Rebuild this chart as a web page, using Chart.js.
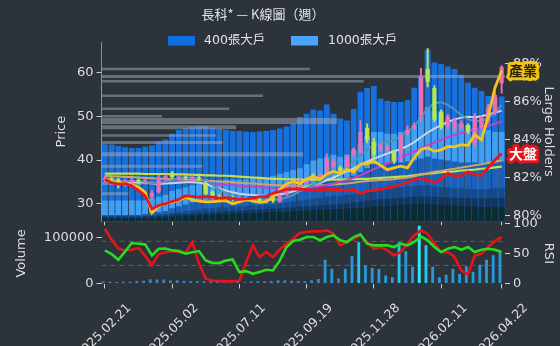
<!DOCTYPE html>
<html>
<head>
<meta charset="utf-8">
<title>長科* K線圖</title>
<script src="https://cdn.jsdelivr.net/npm/chart.js@4/dist/chart.umd.min.js"></script>
<style>
  html, body { margin: 0; padding: 0; background: #2d333b; }
  #wrap { position: relative; width: 560px; height: 346px; overflow: hidden; background: #2d333b; }
  #mainChart { position: absolute; left: 0; top: 0; }
  #subChart { position: absolute; left: 0; top: 208px; }
</style>
</head>
<body>
<div id="wrap">
  <canvas id="mainChart" width="560" height="232" style="width:560px;height:232px"></canvas>
  <canvas id="subChart" width="560" height="138" style="width:560px;height:138px"></canvas>
</div>
<script>
// ---- data ----
var titleText = '長科* — K線圖（週）';
var tickIdx = [0, 10, 20, 30, 40, 50, 59];
var tickLabels = ['2025.02.21', '2025.05.02', '2025.07.11', '2025.09.19', '2025.11.28', '2026.02.11', '2026.04.22'];
var priceTicks = [30, 40, 50, 60];
var holderTicks = [80, 82, 84, 86, 88];
var volTicks = [0, 100000];
var rsiTicks = [0, 50, 100];
var rsiLevels = [30, 70];

var opens = [35.5, 35.9, 35.6, 34.3, 35.1, 35.4, 35.0, 31.5, 32.6, 35.6,
  37.1, 35.7, 36.1, 35.6, 36.0, 34.8, 32.8, 31.8, 31.3, 31.5,
  31.0, 31.1, 30.8, 31.0, 30.6, 31.4, 30.5, 32.0, 33.6, 34.3,
  35.0, 36.6, 36.1, 37.4, 38.5, 38.3, 38.3, 41.2, 42.0, 47.4,
  44.2, 42.3, 42.2, 41.9, 41.7, 46.2, 47.4, 50.0, 60.8, 56.5,
  51.1, 47.7, 46.9, 47.5, 48.0, 44.0, 47.4, 48.8, 50.8, 57.5];
var closes = [35.9, 35.6, 34.2, 35.1, 35.4, 35.0, 35.3, 32.5, 35.8, 36.3,
  36.1, 36.2, 35.8, 36.1, 35.7, 32.3, 31.5, 31.2, 31.6, 31.0,
  31.2, 30.8, 31.1, 30.6, 30.9, 30.6, 31.8, 33.6, 34.3, 35.0,
  35.7, 36.1, 36.6, 40.1, 39.8, 37.4, 40.7, 42.5, 46.4, 44.6,
  41.2, 43.5, 43.0, 39.7, 45.8, 46.9, 48.0, 59.1, 57.9, 49.2,
  47.4, 50.0, 49.2, 48.5, 46.4, 49.6, 49.6, 52.0, 54.9, 61.3];
var highs = [36.3, 36.0, 35.8, 35.5, 35.8, 35.7, 35.6, 33.0, 36.5, 36.6,
  37.4, 36.6, 36.4, 36.5, 36.3, 35.1, 33.0, 32.1, 31.9, 31.8,
  31.5, 31.4, 31.4, 31.3, 31.2, 31.6, 32.0, 34.0, 34.6, 35.5,
  36.0, 36.9, 37.0, 41.4, 40.2, 38.6, 41.1, 42.8, 49.0, 48.3,
  45.0, 43.9, 43.5, 42.3, 46.0, 47.8, 48.5, 61.0, 65.5, 57.0,
  51.5, 50.4, 49.6, 49.0, 48.3, 50.6, 50.0, 52.8, 55.6, 61.6];
var lows = [35.0, 35.2, 33.6, 34.0, 34.8, 34.6, 34.5, 30.9, 32.4, 35.3,
  35.8, 35.4, 35.5, 35.3, 35.4, 32.0, 31.2, 30.9, 30.9, 30.6,
  30.6, 30.5, 30.5, 30.3, 30.2, 30.3, 30.3, 31.8, 33.2, 33.9,
  34.7, 35.8, 35.8, 36.8, 38.2, 37.0, 38.0, 40.8, 41.7, 43.9,
  40.5, 41.9, 41.8, 39.2, 39.6, 45.7, 47.0, 48.8, 56.7, 48.8,
  47.0, 47.3, 46.5, 47.0, 46.0, 43.1, 47.0, 48.4, 50.3, 55.3];

// relative strength lines (industry / market), on the price scale
var industry = [35.7, 35.0, 34.8, 34.6, 34.3, 33.8, 32.6, 27.9, 29.4, 30.1,
  30.3, 30.8, 31.5, 30.9, 30.6, 30.4, 30.5, 30.6, 30.7, 30.0,
  30.4, 31.0, 30.6, 30.3, 30.5, 31.5, 33.2, 34.5, 35.1, 34.6,
  35.6, 36.3, 35.6, 36.8, 37.4, 36.9, 37.8, 37.3, 39.0, 39.2,
  39.7, 38.8, 37.8, 38.2, 38.6, 38.2, 40.5, 42.4, 42.8, 42.0,
  42.3, 43.1, 43.0, 43.5, 43.3, 45.8, 44.6, 50.0, 56.5, 60.4];
var market = [35.6, 34.8, 34.5, 34.6, 34.1, 33.0, 31.8, 28.8, 29.6, 30.0,
  30.5, 31.0, 31.8, 31.7, 31.5, 31.6, 31.5, 31.3, 31.4, 31.2,
  31.0, 31.1, 31.3, 31.6, 31.7, 32.4, 32.8, 33.3, 33.4, 33.3,
  33.3, 33.1, 33.2, 33.3, 33.3, 33.2, 33.0, 33.3, 32.3, 32.9,
  33.1, 33.3, 33.6, 33.9, 34.4, 34.9, 35.5, 35.8, 35.4, 34.8,
  35.6, 37.0, 36.3, 36.4, 37.3, 36.6, 36.5, 38.3, 40.0, 41.5];

// moving averages
var maLong = [36.9, 36.9, 36.9, 36.9, 36.9, 36.9, 36.8, 36.8, 36.8, 36.8,
  36.7, 36.7, 36.7, 36.6, 36.6, 36.5, 36.5, 36.4, 36.4, 36.3,
  36.2, 36.1, 36.0, 35.9, 35.8, 35.7, 35.7, 35.6, 35.6, 35.5,
  35.5, 35.5, 35.5, 35.5, 35.5, 35.5, 35.6, 35.6, 35.7, 35.7,
  35.8, 35.9, 36.0, 36.1, 36.2, 36.3, 36.5, 36.7, 36.9, 37.0,
  37.2, 37.3, 37.4, 37.6, 37.7, 37.8, 38.0, 38.1, 38.3, 38.5];
var maHalf = [36.4, 36.3, 36.2, 36.1, 36.1, 36.0, 35.9, 35.8, 35.7, 35.7,
  35.6, 35.6, 35.5, 35.5, 35.4, 35.3, 35.2, 35.1, 35.0, 34.9,
  34.8, 34.7, 34.6, 34.5, 34.4, 34.3, 34.2, 34.2, 34.1, 34.1,
  34.1, 34.2, 34.2, 34.3, 34.4, 34.5, 34.6, 34.8, 35.0, 35.2,
  35.3, 35.4, 35.5, 35.6, 35.8, 36.0, 36.3, 36.6, 36.9, 37.3,
  37.5, 37.8, 38.0, 38.3, 38.5, 38.8, 39.0, 39.3, 39.6, 39.9];
var maQuarter = [35.4, 35.3, 35.2, 35.2, 35.1, 35.0, 35.0, 34.9, 34.9, 34.9,
  35.0, 35.0, 35.0, 35.0, 34.9, 34.8, 34.6, 34.5, 34.3, 34.2,
  34.1, 34.0, 33.9, 33.8, 33.7, 33.6, 33.5, 33.5, 33.4, 33.4,
  33.6, 33.8, 34.0, 34.3, 34.6, 35.0, 35.4, 35.9, 36.5, 37.2,
  37.9, 38.5, 39.2, 39.9, 40.6, 41.3, 42.0, 42.7, 43.4, 44.0,
  44.6, 45.2, 45.7, 46.2, 46.6, 47.0, 47.4, 47.8, 48.3, 48.8];
var maTen = [35.6, 35.4, 35.2, 35.0, 34.9, 34.9, 34.8, 34.6, 34.5, 34.6,
  34.7, 34.8, 34.9, 34.9, 34.8, 34.5, 34.0, 33.5, 33.0, 32.6,
  32.3, 32.1, 32.0, 31.9, 31.8, 31.9, 32.1, 32.4, 32.8, 33.3,
  33.8, 34.3, 34.8, 35.4, 36.0, 36.7, 37.4, 38.1, 38.9, 39.6,
  40.3, 40.9, 41.5, 42.0, 42.5, 43.2, 44.1, 45.2, 46.3, 47.2,
  48.0, 48.7, 49.3, 49.7, 49.9, 49.8, 50.0, 50.4, 50.8, 51.3];
var maFive = [35.8, 35.7, 35.3, 35.1, 35.2, 35.2, 35.0, 34.6, 34.8, 35.0,
  35.3, 35.9, 36.1, 36.0, 35.9, 35.2, 34.3, 33.3, 32.5, 31.7,
  31.3, 31.2, 31.1, 31.0, 30.9, 30.9, 31.0, 31.4, 32.0, 32.8,
  33.6, 34.3, 35.0, 36.0, 36.9, 37.6, 38.5, 39.5, 41.0, 42.5,
  43.3, 43.9, 44.2, 44.5, 45.5, 46.6, 47.6, 49.8, 51.8, 53.0,
  53.2, 52.6, 51.5, 50.3, 49.3, 48.9, 49.0, 49.5, 50.8, 52.6];

// large holder ratio (%) by tier
var holder400 = [83.75, 83.74, 83.66, 83.60, 83.55, 83.55, 83.63, 83.70, 83.89, 84.00,
  84.30, 84.50, 84.58, 84.66, 84.70, 84.70, 84.63, 84.55, 84.50, 84.45,
  84.45, 84.42, 84.40, 84.42, 84.45, 84.50, 84.58, 84.68, 84.84, 85.18,
  85.35, 85.56, 85.52, 85.83, 85.35, 85.10, 85.00, 85.60, 86.50, 86.70,
  86.80, 86.14, 86.02, 85.97, 85.97, 86.07, 86.71, 87.31, 88.69, 88.04,
  87.96, 87.83, 87.69, 87.40, 86.97, 86.71, 86.54, 86.28, 86.19, 86.25];
var holder1000 = [80.80, 80.80, 80.80, 80.80, 80.80, 80.80, 80.80, 80.90, 81.00, 81.10,
  81.30, 81.40, 81.50, 81.60, 81.65, 81.70, 81.80, 81.85, 81.90, 81.90,
  81.90, 81.90, 82.00, 82.00, 82.00, 82.10, 82.20, 82.30, 82.40, 82.50,
  82.70, 82.90, 83.00, 83.10, 83.20, 83.10, 83.20, 83.40, 83.80, 84.20,
  84.40, 84.40, 84.30, 84.30, 84.40, 84.50, 84.75, 85.20, 85.70, 85.50,
  85.40, 85.00, 84.90, 84.80, 84.70, 84.60, 84.50, 84.50, 84.40, 84.40];
var holderMid = [80.05, 80.05, 80.05, 80.05, 80.05, 80.05, 80.10, 80.15, 80.20, 80.25,
  80.40, 80.50, 80.60, 80.70, 80.75, 80.80, 80.85, 80.90, 80.90, 80.95,
  81.00, 81.00, 81.05, 81.05, 81.10, 81.10, 81.15, 81.20, 81.30, 81.40,
  81.50, 81.60, 81.70, 81.80, 81.90, 81.90, 82.00, 82.10, 82.30, 82.50,
  82.70, 82.75, 82.75, 82.80, 82.80, 82.85, 82.90, 83.00, 83.10, 83.00,
  82.95, 82.90, 82.85, 82.80, 82.80, 82.80, 82.75, 82.75, 82.80, 82.85];
var holderLow = [80.00, 80.00, 80.00, 80.00, 80.00, 80.00, 80.02, 80.05, 80.08, 80.10,
  80.15, 80.20, 80.25, 80.30, 80.35, 80.40, 80.40, 80.45, 80.45, 80.50,
  80.50, 80.50, 80.55, 80.55, 80.60, 80.60, 80.65, 80.70, 80.75, 80.80,
  80.85, 80.90, 80.95, 81.00, 81.05, 81.05, 81.10, 81.15, 81.25, 81.35,
  81.40, 81.45, 81.45, 81.50, 81.50, 81.55, 81.55, 81.60, 81.60, 81.55,
  81.50, 81.50, 81.45, 81.45, 81.40, 81.40, 81.40, 81.40, 81.45, 81.45];
var holderNavy = [79.95, 79.95, 79.95, 79.95, 79.95, 79.95, 79.97, 79.98, 80.00, 80.02,
  80.05, 80.08, 80.10, 80.12, 80.15, 80.18, 80.20, 80.22, 80.24, 80.26,
  80.28, 80.30, 80.32, 80.34, 80.36, 80.38, 80.40, 80.42, 80.45, 80.48,
  80.50, 80.52, 80.55, 80.58, 80.60, 80.62, 80.65, 80.70, 80.75, 80.80,
  80.85, 80.88, 80.90, 80.92, 80.95, 80.98, 81.00, 81.02, 81.02, 81.00,
  80.98, 80.96, 80.95, 80.94, 80.93, 80.92, 80.92, 80.92, 80.93, 80.95];
var holderBase = [79.88, 79.88, 79.88, 79.88, 79.88, 79.88, 79.90, 79.90, 79.92, 79.94,
  79.96, 79.98, 80.00, 80.02, 80.04, 80.06, 80.08, 80.10, 80.10, 80.12,
  80.12, 80.14, 80.14, 80.16, 80.18, 80.20, 80.20, 80.22, 80.24, 80.26,
  80.28, 80.30, 80.32, 80.34, 80.35, 80.36, 80.38, 80.40, 80.42, 80.45,
  80.48, 80.50, 80.52, 80.55, 80.58, 80.60, 80.62, 80.62, 80.62, 80.60,
  80.58, 80.56, 80.54, 80.52, 80.50, 80.48, 80.47, 80.46, 80.45, 80.45];

// volume-by-price profile: price level and length in weeks
var profPrice = [60.8, 59.1, 58.0, 54.7, 51.7, 50.0, 48.9, 47.5, 45.6, 44.0, 41.3, 38.6, 34.6, 32.3];
var profLen = [31, 60, 39, 24, 19, 9, 35, 20, 17, 18, 30, 15, 6, 4];

var volume = [4300, 3800, 3500, 3800, 4000, 5500, 6000, 9500, 9000, 8800,
  6500, 7000, 5500, 5000, 4800, 5200, 5000, 4500, 3000, 2500,
  3500, 3000, 4500, 5000, 5200, 5500, 7000, 7200, 6000, 5000,
  5000, 7000, 10000, 52000, 32600, 11000, 32600, 60000, 90500, 39800,
  34000, 32000, 17400, 13700, 90500, 71000, 37000, 126700, 83900, 37000,
  13700, 19500, 32600, 21000, 38000, 26000, 41000, 52000, 62000, 70000];
var rsiFast = [90.5, 73, 58, 55, 56, 59, 46, 30, 49, 52,
  53.9, 52, 51, 69, 33, 8, 5, 3.9, 3.9, 3.5,
  5, 35, 63, 43.9, 52.2, 43.9, 56.1, 66.1, 74.4, 83.9,
  85.6, 87, 86.5, 88.3, 82.8, 63.3, 68.9, 74.4, 80, 68.9,
  57.8, 60.6, 55, 46.7, 52.2, 66, 80, 88.3, 82.8, 66,
  52.2, 52.2, 43.9, 21.7, 14.4, 46.7, 49.4, 60.6, 70.6, 77.2];
var rsiSlow = [55, 49, 39.4, 53, 67.2, 66, 65, 46.7, 57.8, 58,
  55, 54, 49.4, 52, 53.9, 38.3, 34, 33.9, 38, 40,
  18.9, 20.6, 16.1, 19, 22.8, 21.7, 38, 60, 70.6, 72.8,
  77.2, 77.2, 71.7, 77.2, 80, 71.7, 68.9, 77.2, 81.7, 66.1,
  63.3, 63.3, 63.3, 60.6, 66.1, 63.3, 68.9, 78.3, 71.7, 60.6,
  52.2, 57.8, 60.6, 56.1, 60.6, 52.2, 56.1, 57.8, 56.1, 52.2];

// ---- style ----
var txt = '#dedede';
var tickMark = '#cfcfcf';
var profWidth = [2.5, 3, 2.5, 2.5, 2.5, 2.5, 6, 4, 2.5, 3, 4, 3, 3, 3];

Chart.defaults.font.family = '"DejaVu Sans", "Noto Sans CJK TC", sans-serif';
Chart.defaults.font.size = 13;
Chart.defaults.color = txt;

var N = closes.length;
var weeks = [];
for (var i = 0; i < N; i++) weeks.push(String(i));

function keepTicks(s) {
  s.ticks = s.ticks.filter(function (t) { return tickIdx.indexOf(t.value) !== -1; });
}
function fixedTicks(list) {
  return function (s) { s.ticks = list.map(function (v) { return {value: v}; }); };
}
function candleColor(c) {
  var k = c.dataIndex;
  return closes[k] >= opens[k] ? '#ea6fb5' : '#b4e84e';
}
function volColor(c) {
  var v = volume[c.dataIndex];
  if (v > 110000) return '#30eafa';
  if (v > 80000) return '#1fc9f1';
  if (v > 12000) return '#2799d5';
  return '#4481b9';
}
function line(data, color, width, order) {
  return {type: 'line', data: data, borderColor: color, borderWidth: width, pointRadius: 0,
    tension: 0, yAxisID: 'yP', order: order};
}
function tag(ctx, text, x, y, halo, ink) {
  ctx.font = 'bold 14px "Noto Sans CJK TC"';
  ctx.textAlign = 'center';
  ctx.textBaseline = 'middle';
  ctx.lineJoin = 'round';
  ctx.lineWidth = 6;
  ctx.strokeStyle = halo;
  ctx.strokeText(text, x, y);
  ctx.fillStyle = ink;
  ctx.fillText(text, x, y);
}

var mainOverlay = {
  id: 'mainOverlay',
  afterDraw: function (chart) {
    var c = chart.ctx;
    c.save();
    c.fillStyle = '#e4e4e4';
    c.font = '13px "Noto Sans CJK TC"';
    c.textAlign = 'center';
    c.textBaseline = 'middle';
    c.fillText(titleText, 263, 14);

    c.textAlign = 'left';
    c.font = '12.5px "DejaVu Sans", "Noto Sans CJK TC"';
    c.fillStyle = '#0d6fe2';
    c.fillRect(168, 36, 27, 9.5);
    c.fillStyle = '#4aa5ff';
    c.fillRect(291, 36, 27, 9.5);
    c.fillStyle = '#e4e4e4';
    c.fillText('400張大戶', 204, 41);
    c.fillText('1000張大戶', 328, 41);

    var yP = chart.scales.yP;
    tag(c, '產業', 523, yP.getPixelForValue(industry[N - 1]), '#f3c317', '#2e2400');
    tag(c, '大盤', 523, yP.getPixelForValue(market[N - 1]), '#e4141c', '#ffffff');
    c.restore();
  }
};

var subOverlay = {
  id: 'subOverlay',
  afterDraw: function (chart) {
    var c = chart.ctx;
    var xs = chart.scales.x;
    c.save();
    c.fillStyle = txt;
    c.font = '12.5px "DejaVu Sans"';
    c.textAlign = 'center';
    c.textBaseline = 'middle';
    tickIdx.forEach(function (k, j) {
      c.save();
      c.translate(xs.getPixelForValue(k) - 1, chart.chartArea.bottom + 48);
      c.rotate(-Math.PI / 4);
      c.fillText(tickLabels[j], 0, 0);
      c.restore();
    });
    c.restore();
  }
};

// ---- main panel ----
var holderLayers = [
  {label: '400張大戶', data: holder400, color: '#1670de'},
  {label: '1000張大戶', data: holder1000, color: '#409ef3'},
  {label: 'mid', data: holderMid, color: '#1a5fb8'},
  {label: 'low', data: holderLow, color: '#154a8a'},
  {label: 'navy', data: holderNavy, color: '#10365e'},
  {label: 'base', data: holderBase, color: '#0b2c31'}
];

var mainSets = [];
holderLayers.forEach(function (h, j) {
  mainSets.push({type: 'bar', label: h.label, data: h.data, backgroundColor: h.color,
    yAxisID: 'yH', grouped: false, barPercentage: 0.86, categoryPercentage: 1, order: 100 - j});
});
profPrice.forEach(function (p, j) {
  mainSets.push({type: 'line', xAxisID: 'xl', yAxisID: 'yP',
    data: [{x: -0.5, y: p}, {x: -0.5 + profLen[j], y: p}],
    borderColor: 'rgba(165,172,182,0.5)', borderWidth: profWidth[j], borderCapStyle: 'butt',
    pointRadius: 0, order: 80});
});
mainSets.push(line(maLong, '#c8de46', 2.2, 60));
mainSets.push(line(maHalf, '#c9a56a', 2, 59));
mainSets.push(line(maQuarter, '#c43fcb', 2, 58));
mainSets.push(line(maTen, '#c6d4ec', 2, 57));
mainSets.push(line(maFive, '#4f93b8', 2, 56));
mainSets.push({type: 'bar', data: lows.map(function (l, k) { return [l, highs[k]]; }),
  backgroundColor: candleColor, yAxisID: 'yP', grouped: false, barThickness: 1.3, order: 45});
mainSets.push({type: 'bar', data: opens.map(function (o, k) { return [o, closes[k]]; }),
  backgroundColor: candleColor, yAxisID: 'yP', grouped: false, barPercentage: 0.62,
  categoryPercentage: 1, order: 44});
mainSets.push(line(industry, '#f5c41c', 2.8, 3));
mainSets.push(line(market, '#e8161e', 2.8, 2));

new Chart(document.getElementById('mainChart'), {
  type: 'bar',
  data: {labels: weeks, datasets: mainSets},
  options: {
    responsive: false,
    animation: false,
    layout: {padding: {left: 50, top: 42, right: 0, bottom: 0}},
    plugins: {legend: {display: false}, title: {display: false}, tooltip: {enabled: false}},
    scales: {
      x: {
        type: 'category', offset: true,
        grid: {display: true, offset: false, drawOnChartArea: false, drawTicks: true, tickLength: 4, color: tickMark},
        border: {display: false},
        ticks: {display: false},
        afterBuildTicks: keepTicks,
        afterFit: function (s) { s.height = 10; }
      },
      xl: {type: 'linear', axis: 'x', display: false, offset: false, min: -0.5, max: N - 0.5},
      yP: {
        type: 'linear', position: 'left', min: 26, max: 67,
        afterBuildTicks: fixedTicks(priceTicks),
        ticks: {color: txt, padding: 3},
        grid: {drawOnChartArea: false, tickLength: 5, color: tickMark},
        border: {display: true, color: '#8b9199'},
        title: {display: true, text: 'Price', color: txt, font: {size: 13}},
        afterFit: function (s) { s.width = 51.5; }
      },
      yH: {
        type: 'linear', position: 'right', min: 79.72, max: 89.11,
        afterBuildTicks: fixedTicks(holderTicks),
        ticks: {color: txt, padding: 3, callback: function (v) { return v + '%'; }},
        grid: {drawOnChartArea: false, tickLength: 5, color: tickMark},
        border: {display: false},
        title: {display: true, text: 'Large Holders', color: txt, font: {size: 13}},
        afterFit: function (s) { s.width = 55; }
      }
    }
  },
  plugins: [mainOverlay]
});

// ---- volume / RSI panel ----
var subSets = [
  {type: 'bar', data: volume, backgroundColor: volColor, yAxisID: 'yV',
    barPercentage: 0.85, categoryPercentage: 1, order: 10}
];
rsiLevels.forEach(function (lv) {
  subSets.push({type: 'line', xAxisID: 'xl', yAxisID: 'yR',
    data: [{x: -0.5, y: lv}, {x: N - 0.5, y: lv}],
    borderColor: '#596069', borderWidth: 1, borderDash: [5, 4], pointRadius: 0, order: 20});
});
subSets.push({type: 'line', data: rsiFast, borderColor: '#e5141b', borderWidth: 2.6,
  pointRadius: 0, tension: 0, yAxisID: 'yR', order: 2});
subSets.push({type: 'line', data: rsiSlow, borderColor: '#24de1f', borderWidth: 2.6,
  pointRadius: 0, tension: 0, yAxisID: 'yR', order: 1});

new Chart(document.getElementById('subChart'), {
  type: 'bar',
  data: {labels: weeks, datasets: subSets},
  options: {
    responsive: false,
    animation: false,
    layout: {padding: {left: 10, top: 15.3, right: 0, bottom: 0}},
    plugins: {legend: {display: false}, title: {display: false}, tooltip: {enabled: false}},
    scales: {
      x: {
        type: 'category', offset: true,
        grid: {display: true, offset: false, drawOnChartArea: false, drawTicks: true, tickLength: 5, color: tickMark},
        border: {display: false},
        ticks: {display: false},
        afterBuildTicks: keepTicks,
        afterFit: function (s) { s.height = 62.5; }
      },
      xl: {type: 'linear', axis: 'x', display: false, offset: false, min: -0.5, max: N - 0.5},
      yV: {
        type: 'linear', position: 'left', min: 0, max: 132300,
        afterBuildTicks: fixedTicks(volTicks),
        ticks: {color: txt, padding: 3, callback: function (v) { return String(v); }},
        grid: {drawOnChartArea: false, tickLength: 5, color: tickMark},
        border: {display: false},
        title: {display: true, text: 'Volume', color: txt, font: {size: 13}},
        afterFit: function (s) { s.width = 91.5; }
      },
      yR: {
        type: 'linear', position: 'right', min: 0, max: 100,
        afterBuildTicks: fixedTicks(rsiTicks),
        ticks: {color: txt, padding: 3},
        grid: {drawOnChartArea: false, tickLength: 5, color: tickMark},
        border: {display: false},
        title: {display: true, text: 'RSI', color: txt, font: {size: 13}},
        afterFit: function (s) { s.width = 55; }
      }
    }
  },
  plugins: [subOverlay]
});
</script>
</body>
</html>
